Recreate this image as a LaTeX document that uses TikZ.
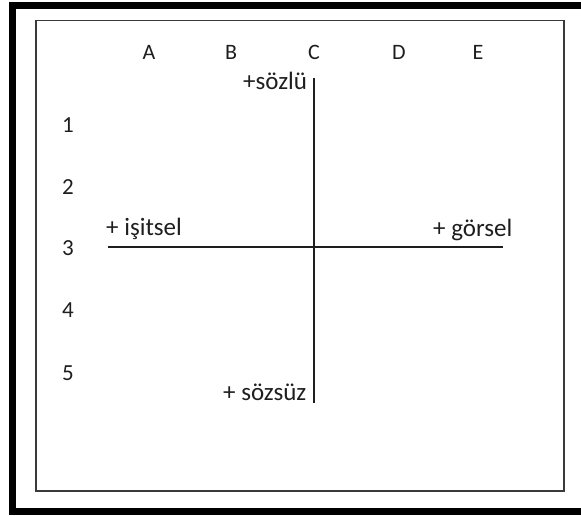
\documentclass[tikz,border=0pt]{standalone}
\usepackage{fontspec}
\setmainfont{Carlito}
\usepackage{xcolor}
\definecolor{sheetink}{HTML}{1E1E1E}
\definecolor{sheetframe}{HTML}{3A3A3A}

\begin{document}
\begin{tikzpicture}[
  x=1pt,
  y=-1pt,
  every node/.style={sheetink, inner sep=0pt},
  headlbl/.style={font=\fontsize{22}{26}\selectfont},
  rowlbl/.style={font=\fontsize{23}{27}\selectfont},
  axislbl/.style={font=\fontsize{25}{29}\selectfont, anchor=base west},
  axisline/.style={sheetink, line width=1.3pt},
  outerframe/.style={black, line width=7pt},
  innerframe/.style={sheetframe, line width=1.4pt}
]
  \useasboundingbox (0,0) rectangle (581,515);
  \clip (0,0) rectangle (581,515);

  % ---- frames ----
  \draw[outerframe] (600,5.5) -- (12.5,5.5) -- (12.5,511.5) -- (600,511.5);
  \draw[innerframe] (36,20.5) rectangle (564,491);

  % ---- column and row headings ----
  \foreach \p/\k in {149/A, 231/B, 314/C, 399/D, 478/E}
    \node[headlbl] (col\k) at (\p,52) {\k};
  \foreach \q/\k in {125/1, 187/2, 248/3, 310/4, 373/5}
    \node[rowlbl] (row\k) at (68,\q) {\k};

  % ---- the two axes ----
  \coordinate (west)  at (108,247);
  \coordinate (east)  at (503,247);
  \coordinate (north) at (314,78);
  \coordinate (south) at (314,403);
  \draw[axisline] (west) -- (east);
  \draw[axisline] (north) -- (south);

  % ---- axis end labels ----
  \node[axislbl] (isitsel) at (106,235) {+ işitsel};
  \node[axislbl] (gorsel)  at (433,236) {+ görsel};
  \node[axislbl] (sozlu)   at (243,89)  {+sözlü};
  \node[axislbl] (sozsuz)  at (223,400) {+ sözsüz};
\end{tikzpicture}
\end{document}
